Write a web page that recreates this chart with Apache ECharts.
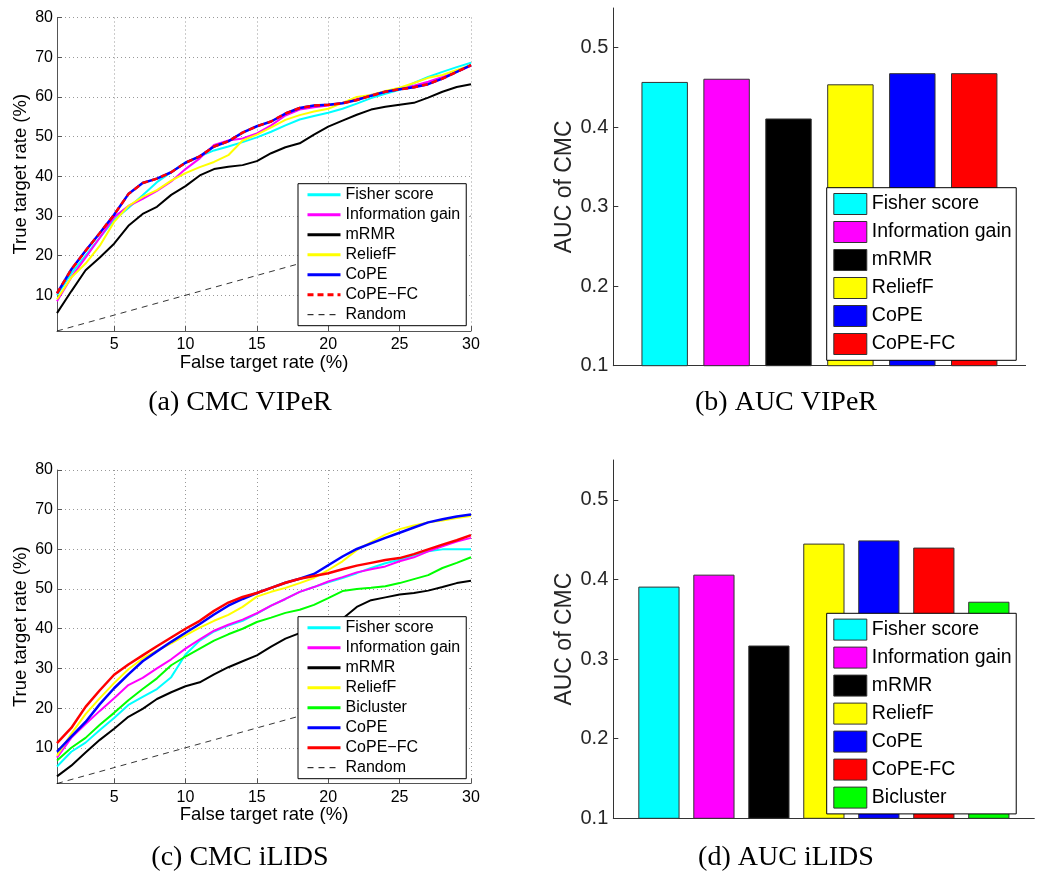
<!DOCTYPE html>
<html><head><meta charset="utf-8">
<script src="https://cdn.jsdelivr.net/npm/echarts@6/dist/echarts.min.js"></script>
<style>
html,body{margin:0;padding:0;background:#fff;}
#wrap{position:relative;width:1040px;height:872px;}
.p{position:absolute;width:520px;height:436px;}
</style></head><body>
<div id="wrap">
<div class="p" id="pa" style="left:0;top:0"></div>
<div class="p" id="pb" style="left:520px;top:0"></div>
<div class="p" id="pc" style="left:0;top:436px"></div>
<div class="p" id="pd" style="left:520px;top:436px"></div>
</div>
<script>
// ---------- data ----------
const falseRate = [1,2,3,4,5,6,7,8,9,10,11,12,13,14,15,16,17,18,19,20,21,22,23,24,25,26,27,28,29,30];
const randomX = [1, 30];
const randomY = [1, 30];
const xTicks = [5,10,15,20,25,30];
const yTicks = [10,20,30,40,50,60,70,80];
const aucTicks = [0.1,0.2,0.3,0.4,0.5];

// (a) CMC VIPeR
const vipFisher = [10.0,15.5,20.0,24.5,29.0,32.0,35.2,38.5,41.0,43.5,45.0,46.5,47.5,48.6,49.8,51.2,52.8,54.3,55.2,56.0,57.0,58.3,59.7,60.8,61.8,63.5,65.0,66.3,67.5,68.6];
const vipInfo   = [8.5,14.5,19.5,24.5,29.7,32.5,34.3,36.3,38.7,41.8,44.5,47.9,49.0,49.5,50.8,52.8,55.3,56.8,57.4,57.8,58.5,59.5,60.5,61.3,62.0,62.8,63.8,65.0,66.3,67.8];
const vipMRMR   = [5.5,11.0,16.3,19.5,23.0,27.5,30.5,32.3,35.3,37.5,40.2,41.8,42.4,42.8,43.8,45.8,47.3,48.3,50.5,52.5,54.0,55.5,56.8,57.5,58.0,58.5,59.8,61.3,62.5,63.2];
const vipRelief = [9.0,14.5,18.0,22.5,28.5,32.5,34.8,36.5,38.9,40.8,42.3,43.6,45.3,49.0,50.5,52.3,54.2,55.4,56.3,57.0,58.5,60.0,60.5,61.5,62.3,63.5,64.8,65.5,66.8,68.0];
const vipCoPE   = [10.5,16.5,21.2,25.7,30.3,35.5,38.3,39.4,41.0,43.4,45.0,47.5,48.8,51.0,52.6,53.8,55.8,57.2,57.8,58.0,58.4,59.2,60.3,61.3,61.9,62.4,63.2,64.6,66.3,68.0];
const vipCoPEFC = [10.5,16.5,21.2,25.7,30.3,35.5,38.3,39.4,41.0,43.4,45.0,47.5,48.8,51.0,52.6,53.8,55.8,57.2,57.8,58.0,58.4,59.2,60.3,61.3,61.9,62.4,63.2,64.6,66.3,68.0];

// (c) CMC iLIDS
const ilFisher  = [5.3,9.0,11.3,14.5,17.5,20.8,22.8,24.8,27.8,33.5,37.0,39.3,40.8,42.0,43.8,45.8,47.5,49.3,50.5,51.7,52.8,54.0,55.3,56.5,57.4,58.5,59.5,60.0,60.0,60.0];
const ilInfo    = [7.5,12.5,16.0,19.3,22.5,25.8,27.6,30.0,32.3,35.0,37.3,39.5,41.0,42.3,43.9,45.8,47.5,49.3,50.5,51.9,53.0,54.2,55.0,55.7,57.0,58.0,59.5,60.8,62.0,62.9];
const ilMRMR    = [2.8,5.5,8.8,12.0,14.8,17.8,19.8,22.3,24.0,25.5,26.5,28.5,30.3,31.8,33.3,35.5,37.5,38.9,40.0,41.0,42.5,45.5,47.2,47.9,48.6,49.0,49.6,50.5,51.5,52.1];
const ilRelief  = [8.0,13.5,18.5,22.5,26.3,29.8,32.5,34.5,36.3,38.3,40.3,42.0,43.5,45.5,48.1,49.3,50.3,51.5,52.8,54.8,57.0,59.8,61.8,63.7,65.1,66.0,66.8,67.3,67.9,68.4];
const ilBiclust = [6.8,10.0,12.5,15.8,18.8,22.0,24.8,27.5,30.8,33.0,35.0,37.0,38.6,40.0,41.7,42.8,44.0,44.8,46.0,47.7,49.5,50.0,50.3,50.7,51.5,52.5,53.5,55.3,56.6,58.0];
const ilCoPE    = [9.0,12.8,16.5,21.0,25.0,28.5,31.8,34.3,36.7,39.0,41.2,43.6,45.8,47.5,49.0,50.3,51.6,52.6,53.8,56.0,58.2,60.1,61.5,62.9,64.2,65.5,66.8,67.6,68.3,68.8];
const ilCoPEFC  = [11.2,15.0,20.3,24.5,28.4,31.0,33.3,35.6,37.8,40.0,42.0,44.5,46.6,48.0,49.0,50.3,51.6,52.6,53.3,54.0,55.0,55.9,56.6,57.3,57.8,58.8,60.0,61.2,62.3,63.6];

// (b) AUC VIPeR
const vipMethods = ['Fisher score','Information gain','mRMR','ReliefF','CoPE','CoPE-FC'];
const vipAUC = [0.457,0.461,0.411,0.454,0.468,0.468];
// (d) AUC iLIDS
const ilMethods = ['Fisher score','Information gain','mRMR','ReliefF','CoPE','CoPE-FC','Bicluster'];
const ilAUC = [0.391,0.406,0.317,0.445,0.449,0.440,0.372];

// ---------- styles ----------
const COL = {'Fisher score':'#00ffff','Information gain':'#ff00ff','mRMR':'#000000','ReliefF':'#ffff00','CoPE':'#0000ff','CoPE-FC':'#ff0000','Bicluster':'#00ff00'};
const SANS = 'Liberation Sans, Arial, Helvetica, sans-serif';
const SERIF = 'Liberation Serif, Times New Roman, serif';

function lineSeries(name, ys, opt) {
  opt = opt || {};
  return {
    name: name, type: 'line', symbol: 'none', silent: true, animation: false,
    data: falseRate.map((x, i) => [x, ys[i]]),
    lineStyle: {color: opt.color || COL[name], width: opt.width || 2, type: opt.type || 'solid'},
    itemStyle: {color: opt.color || COL[name]}
  };
}
function randomSeries() {
  return {
    name: 'Random', type: 'line', symbol: 'none', silent: true, animation: false,
    data: randomX.map((x, i) => [x, randomY[i]]),
    lineStyle: {color: '#000', width: 0.8, type: [6, 5]},
    itemStyle: {color: '#000'}
  };
}

function linePanel(id, series, gridTop, legendTop, caption, capY) {
  const chart = echarts.init(document.getElementById(id), null, {width: 520, height: 436});
  chart.setOption({
    animation: false,
    textStyle: {fontFamily: SANS},
    grid: {left: 57, top: gridTop, width: 414, height: 313.5, outerBoundsMode: 'none', containLabel: false},
    xAxis: {
      type: 'value', min: 1, max: 30,
      name: 'False target rate (%)', nameLocation: 'middle', nameGap: 22, nameMoveOverlap: false,
      nameTextStyle: {fontSize: 18.5, color: '#000', fontFamily: SANS},
      axisLine: {show: true, onZero: false, lineStyle: {color: '#555', width: 1}},
      axisTick: {show: true, inside: true, length: 5, customValues: xTicks, lineStyle: {color: '#555'}},
      axisLabel: {customValues: xTicks, fontSize: 16, color: '#000', margin: 6, fontFamily: SANS},
      splitLine: {show: true, lineStyle: {color: '#999', width: 1, type: [1, 3]}}
    },
    yAxis: {
      type: 'value', min: 1, max: 80,
      name: 'True target rate (%)', nameLocation: 'middle', nameGap: 27, nameMoveOverlap: false,
      nameTextStyle: {fontSize: 18.5, color: '#000', fontFamily: SANS},
      axisLine: {show: true, onZero: false, lineStyle: {color: '#555', width: 1}},
      axisTick: {show: true, inside: true, length: 5, customValues: yTicks, lineStyle: {color: '#555'}},
      axisLabel: {customValues: yTicks, fontSize: 16, color: '#000', margin: 4, fontFamily: SANS},
      splitLine: {show: true, lineStyle: {color: '#999', width: 1, type: [1, 3]}}
    },
    legend: {
      orient: 'vertical', left: 298, top: legendTop,
      data: series.map(s => ({name: s.name, lineStyle: {width: s.name === 'Random' ? 1 : 3}})),
      itemWidth: 33, itemHeight: 14, itemGap: 4,
      padding: [3, 6, 3, 8],
      backgroundColor: '#fff', borderColor: '#000', borderWidth: 1, borderRadius: 0,
      selectedMode: false,
      itemStyle: {opacity: 0},
      textStyle: {fontSize: 16, lineHeight: 16, color: '#000', fontFamily: SANS}
    },
    graphic: [{
      type: 'text', x: 240, y: capY,
      style: {text: caption, fontSize: 28, fontFamily: SERIF, fill: '#000', align: 'center', verticalAlign: 'middle'}
    }],
    series: series
  });
}

function barPanel(id, methods, vals, gridTop, gridH, xMax, gridW, legendTop, caption, capY) {
  const chart = echarts.init(document.getElementById(id), null, {width: 520, height: 436});
  const series = methods.map((m, i) => ({
    name: m, type: 'bar', silent: true, animation: false,
    data: [[i + 1, vals[i]]],
    barWidth: '75%', barGap: '-100%',
    itemStyle: {color: COL[m], borderColor: '#333', borderWidth: 1}
  }));
  chart.setOption({
    animation: false,
    textStyle: {fontFamily: SANS},
    grid: {left: 93.3, top: gridTop, width: gridW, height: gridH, outerBoundsMode: 'none', containLabel: false},
    xAxis: {
      type: 'value', min: 0.17, max: xMax,
      axisLine: {show: true, onZero: false, lineStyle: {color: '#333', width: 1}},
      axisTick: {show: false}, axisLabel: {show: false}, splitLine: {show: false}
    },
    yAxis: {
      type: 'value', min: 0.1, max: 0.55,
      name: 'AUC of CMC', nameLocation: 'middle', nameGap: 37, nameMoveOverlap: false,
      nameTextStyle: {fontSize: 23, color: '#262626', fontFamily: SANS},
      axisLine: {show: true, onZero: false, lineStyle: {color: '#333', width: 1}},
      axisTick: {show: true, inside: true, length: 5, customValues: aucTicks, lineStyle: {color: '#333'}},
      axisLabel: {customValues: aucTicks, formatter: v => v.toFixed(1), fontSize: 20, color: '#262626', margin: 5, fontFamily: SANS},
      splitLine: {show: false}
    },
    legend: {
      orient: 'vertical', left: 306.7, top: legendTop,
      data: methods, icon: 'rect',
      itemWidth: 33, itemHeight: 21, itemGap: 6,
      padding: [5.3, 4.6, 5.3, 6.6],
      backgroundColor: '#fff', borderColor: '#000', borderWidth: 1, borderRadius: 0,
      selectedMode: false,
      itemStyle: {borderColor: '#333', borderWidth: 1},
      textStyle: {fontSize: 19.5, lineHeight: 21, color: '#000', fontFamily: SANS}
    },
    graphic: [{
      type: 'text', x: 266, y: capY,
      style: {text: caption, fontSize: 28, fontFamily: SERIF, fill: '#000', align: 'center', verticalAlign: 'middle'}
    }],
    series: series
  });
}

linePanel('pa', [
  lineSeries('Fisher score', vipFisher),
  lineSeries('Information gain', vipInfo),
  lineSeries('mRMR', vipMRMR),
  lineSeries('ReliefF', vipRelief),
  lineSeries('CoPE', vipCoPE, {width: 2.5}),
  lineSeries('CoPE\u2212FC', vipCoPEFC, {color: '#ff0000', width: 2.5, type: [6, 4]}),
  randomSeries()
], 17.5, 183.7, '(a) CMC VIPeR', 403);

linePanel('pc', [
  lineSeries('Fisher score', ilFisher),
  lineSeries('Information gain', ilInfo),
  lineSeries('mRMR', ilMRMR),
  lineSeries('ReliefF', ilRelief),
  lineSeries('Bicluster', ilBiclust),
  lineSeries('CoPE', ilCoPE, {width: 2.5}),
  lineSeries('CoPE\u2212FC', ilCoPEFC, {color: '#ff0000', width: 2.5}),
  randomSeries()
], 34, 180.7, '(c) CMC iLIDS', 422);

barPanel('pb', vipMethods, vipAUC, 8, 357.7, 6.83, 412.3, 187.7, '(b) AUC VIPeR', 403);
barPanel('pd', ilMethods, ilAUC, 24, 358.3, 7.827, 421, 177.3, '(d) AUC iLIDS', 422);
</script>
</body></html>
